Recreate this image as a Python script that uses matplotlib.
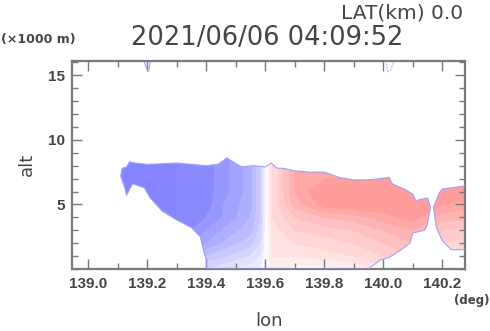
import numpy as np
import matplotlib
matplotlib.use("Agg")
import matplotlib.pyplot as plt
from matplotlib.colors import LinearSegmentedColormap
from matplotlib.path import Path
from matplotlib.patches import PathPatch
from matplotlib.ticker import MultipleLocator

# ---- data ----
lon = [139.10, 139.20, 139.30, 139.40, 139.48, 139.55, 139.585, 139.605,
       139.625, 139.70, 139.80, 139.90, 140.00, 140.10, 140.20, 140.30]
alt = [0, 1, 2, 3, 4, 5, 6, 7, 8, 9]
# normalised wind component, rows = alt, columns = lon
c_13910 = [-1.0, -1.0, -1.0, -1.0, -1.0, -1.0, -1.0, -1.0, -1.0, -1.0]
c_13920 = [-1.0, -1.0, -1.0, -1.0, -1.0, -1.0, -1.0, -1.0, -1.0, -1.0]
c_13930 = [-0.9, -0.9, -0.95, -1.0, -1.0, -1.0, -1.0, -1.0, -1.0, -1.0]
c_13940 = [-0.3, -0.5, -0.7, -0.8, -0.9, -0.95, -0.95, -0.95, -0.95, -0.95]
c_13948 = [-0.2, -0.4, -0.55, -0.65, -0.75, -0.75, -0.8, -0.8, -0.8, -0.8]
c_13955 = [-0.15, -0.3, -0.45, -0.55, -0.6, -0.65, -0.65, -0.65, -0.65, -0.65]
c_13958 = [-0.1, -0.2, -0.3, -0.35, -0.4, -0.4, -0.4, -0.4, -0.4, -0.4]
c_13960 = [0.0, 0.0, 0.0, 0.0, 0.0, 0.0, 0.0, 0.0, 0.0, 0.0]
c_13962 = [0.15, 0.2, 0.25, 0.25, 0.3, 0.3, 0.3, 0.3, 0.3, 0.3]
c_13970 = [0.05, 0.2, 0.3, 0.4, 0.5, 0.65, 0.7, 0.7, 0.7, 0.7]
c_13980 = [0.05, 0.25, 0.35, 0.45, 0.6, 0.85, 0.9, 0.8, 0.75, 0.75]
c_13990 = [0.1, 0.3, 0.4, 0.5, 0.65, 0.9, 0.9, 0.8, 0.8, 0.8]
c_14000 = [0.25, 0.4, 0.5, 0.6, 0.75, 0.9, 0.9, 0.85, 0.85, 0.85]
c_14010 = [0.35, 0.5, 0.6, 0.7, 0.85, 0.9, 0.9, 0.9, 0.9, 0.9]
c_14020 = [0.2, 0.3, 0.4, 0.5, 0.65, 0.8, 0.85, 0.85, 0.85, 0.85]
c_14030 = [0.2, 0.3, 0.35, 0.45, 0.6, 0.75, 0.85, 0.85, 0.85, 0.85]
columns = [c_13910, c_13920, c_13930, c_13940, c_13948, c_13955, c_13958,
           c_13960, c_13962, c_13970, c_13980, c_13990, c_14000, c_14010,
           c_14020, c_14030]

# outline of the main echo region (lon, alt)
main_lon = [139.11, 139.115, 139.13, 139.14, 139.16, 139.20, 139.30, 139.40,
            139.44, 139.47, 139.49, 139.52, 139.56, 139.60, 139.62, 139.64,
            139.66, 139.70, 139.75, 139.80, 139.85, 139.90, 139.95, 139.99,
            140.02, 140.03, 140.07, 140.10, 140.11, 140.15, 140.16, 140.15,
            140.14, 140.10, 140.09, 140.06, 140.02, 139.99, 139.96, 139.95,
            139.40, 139.40, 139.39, 139.38, 139.35, 139.30, 139.25, 139.21,
            139.19, 139.15, 139.13, 139.125, 139.11]
main_alt = [7.2, 7.8, 7.9, 8.3, 8.2, 8.1, 8.2, 8.0,
            8.1, 8.6, 8.3, 7.9, 8.0, 7.9, 8.2, 7.8,
            7.8, 7.6, 7.5, 7.5, 7.1, 6.9, 6.9, 7.0,
            7.1, 6.6, 6.2, 5.8, 5.3, 5.5, 4.8, 3.5,
            3.0, 2.8, 2.0, 1.5, 0.9, 0.7, 0.2, 0.0,
            0.0, 0.7, 1.5, 2.5, 3.2, 3.8, 4.5, 5.5,
            6.3, 6.6, 5.7, 6.2, 7.2]
# outline of the eastern echo region
east_lon = [140.17, 140.19, 140.20, 140.27, 140.29, 140.29, 140.23, 140.20,
            140.18, 140.17]
east_alt = [4.8, 5.9, 6.2, 6.4, 6.5, 1.5, 1.5, 2.2, 3.2, 4.3]
# small echoes near the top
spot1_lon = [139.19, 139.20, 139.205, 139.21]
spot1_alt = [16.0, 15.4, 15.3, 16.0]
spot2_lon = [140.01, 140.015, 140.025, 140.035]
spot2_alt = [15.9, 15.3, 15.4, 16.0]

title_text = "2021/06/06 04:09:52"
lat_text = "LAT(km) 0.0"

# ---- figure ----
TXT = "#454545"
SP = "#7a7a7a"
fig = plt.figure(figsize=(4.9, 3.31), dpi=100)
ax = fig.add_axes([0.147, 0.187, 0.802, 0.629])

cmap = LinearSegmentedColormap.from_list(
    "bw_r", [(0.0, (0.52, 0.52, 1.0)), (0.5, (1.0, 1.0, 1.0)),
             (1.0, (1.0, 0.55, 0.55))])
Z = np.array(columns).T
cs = ax.contourf(lon, alt, Z, levels=np.linspace(-1.0, 1.0, 21), cmap=cmap,
                 vmin=-1, vmax=1, extend="both")

p_main = Path(np.column_stack([main_lon, main_alt]), closed=True)
p_east = Path(np.column_stack([east_lon, east_alt]), closed=True)
clip = Path.make_compound_path(p_main, p_east)
patch = PathPatch(clip, transform=ax.transData, facecolor="none",
                  edgecolor="#a0a0ff", lw=0.8, zorder=3)
ax.add_patch(patch)
cs.set_clip_path(patch)

ax.plot(spot1_lon, spot1_alt, color="#a0a0ff", lw=0.8)
ax.plot(spot2_lon, spot2_alt, color="#b0b0ff", lw=0.8, ls=(0, (2, 1)))

ax.set_xlim(138.945, 140.277)
ax.set_ylim(0, 16.1)
ax.xaxis.set_minor_locator(MultipleLocator(0.1))
ax.yaxis.set_minor_locator(MultipleLocator(1))
ax.set_yticks([5, 10, 15])
ax.set_xticks([139.0, 139.2, 139.4, 139.6, 139.8, 140.0, 140.2])
ax.set_xticklabels(["139.0", "139.2", "139.4", "139.6", "139.8", "140.0",
                    "140.2"])

for s in ax.spines.values():
    s.set_color(SP)
    s.set_linewidth(1.6)
ax.tick_params(which="both", direction="in", top=True, right=True,
               color=SP, width=1.0)
ax.tick_params(which="major", length=7, pad=6)
ax.tick_params(which="minor", length=4)
for lab in ax.get_xticklabels() + ax.get_yticklabels():
    lab.set_fontfamily("Liberation Sans")
    lab.set_fontweight("bold")
    lab.set_fontsize(11)
    lab.set_color(TXT)
ax.tick_params(axis="y", pad=5)

fig.text(0.546, 0.884, title_text, ha="center", va="center", fontsize=18.5,
         color=TXT, family="DejaVu Sans")
fig.text(0.945, 0.96, lat_text, ha="right", va="center", fontsize=14.5,
         color=TXT, family="DejaVu Sans")
fig.text(0.002, 0.882, "(\u00d71000 m)", ha="left", va="center", fontsize=9,
         fontweight="bold", color=TXT, family="DejaVu Sans")
fig.text(0.998, 0.093, "(deg)", ha="right", va="center", fontsize=8.5,
         fontweight="bold", color=TXT, family="DejaVu Sans")
fig.text(0.548, 0.03, "lon", ha="center", va="center", fontsize=13,
         color=TXT, family="DejaVu Sans")
fig.text(0.055, 0.502, "alt", ha="center", va="center", fontsize=13,
         rotation=90, color=TXT, family="DejaVu Sans")

fig.savefig("out.png", dpi=100)
